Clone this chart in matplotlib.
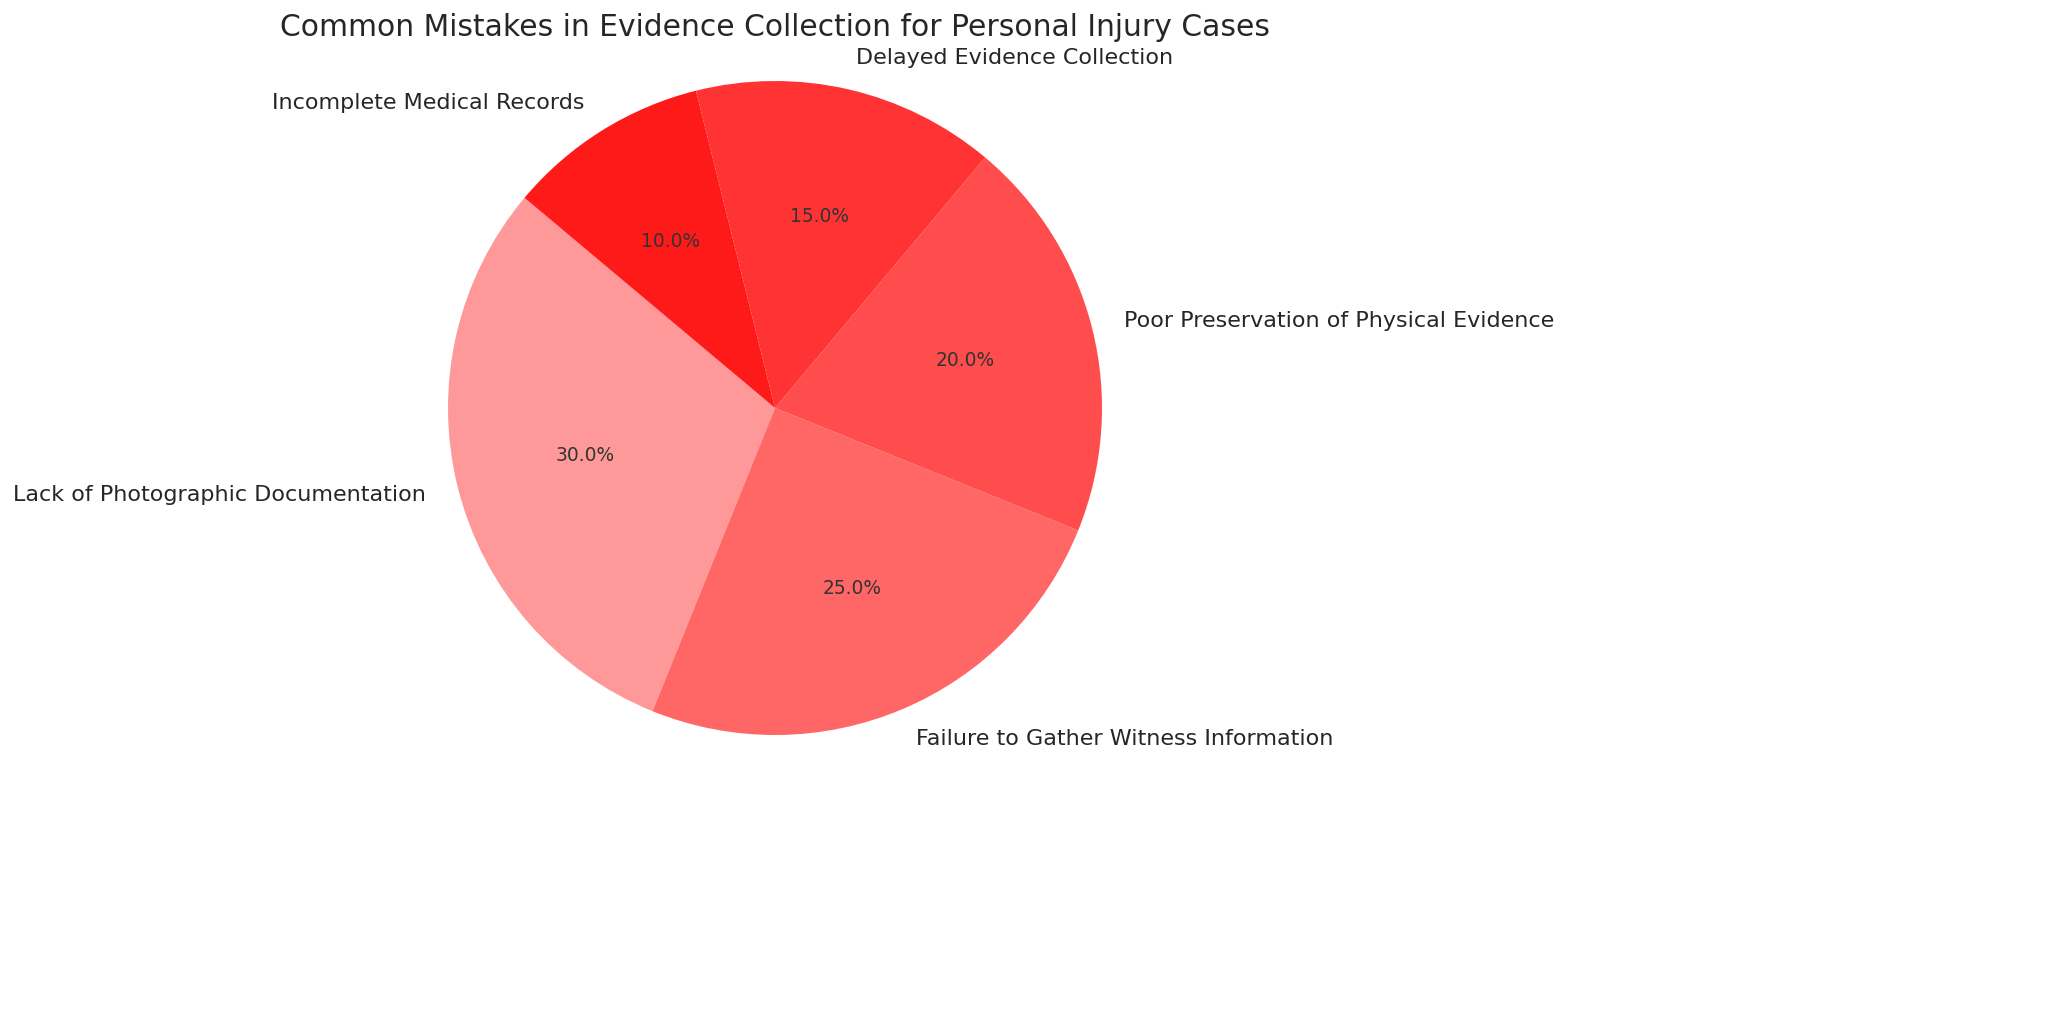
import matplotlib
matplotlib.use('Agg')
import matplotlib.pyplot as plt

# data
labels = ['Lack of Photographic Documentation', 'Failure to Gather Witness Information',
          'Poor Preservation of Physical Evidence', 'Delayed Evidence Collection',
          'Incomplete Medical Records']
shares = [30, 25, 20, 15, 10]
colors = ['#ff9999', '#ff6666', '#ff4d4d', '#ff3333', '#ff1a1a']

plt.rcParams['font.family'] = ['DejaVu Sans']
plt.rcParams['text.color'] = '#262626'

W, H = 2048, 1019
fig = plt.figure(figsize=(W / 200, H / 200), dpi=200)

# pie centre ~ (775, 408) px, radius ~ 327 px
cx, cy, r = 775, 408, 327
side = 2 * 1.25 * r
ax = fig.add_axes([(cx - side / 2) / W, (H - cy - side / 2) / H, side / W, side / H])

wedges, texts, autotexts = ax.pie(shares, labels=labels, colors=colors, autopct='%1.1f%%',
                                  startangle=140, textprops={'fontsize': 8})
for t in autotexts:
    t.set_fontsize(6.7)
    t.set_color('#333333')
ax.set_xlim(-1.25, 1.25)
ax.set_ylim(-1.25, 1.25)
ax.set_aspect('equal')

fig.text(cx / W, 1 - 27 / H, 'Common Mistakes in Evidence Collection for Personal Injury Cases',
         ha='center', va='center', fontsize=10.7)

fig.savefig('out.png', dpi=200)
